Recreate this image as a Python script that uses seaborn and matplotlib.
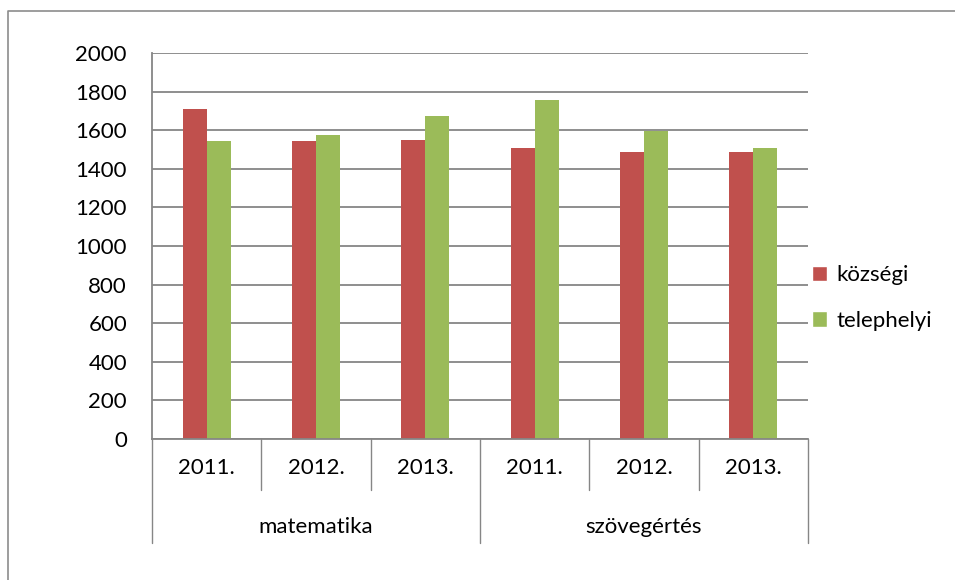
import numpy as np
import pandas as pd
import seaborn as sns
import matplotlib.pyplot as plt
from matplotlib.lines import Line2D
from matplotlib.patches import Patch
from matplotlib.transforms import blended_transform_factory

# data
subjects = ['matematika', 'szövegértés']
years = ['2011.', '2012.', '2013.']
kozsegi = [1711, 1546, 1550, 1508, 1489, 1489]
telephelyi = [1546, 1574, 1671, 1755, 1597, 1506]
series_names = ['községi', 'telephelyi']
colors = ['#C0504D', '#9BBB59']

cats = [s + ' ' + y for s in subjects for y in years]
df = pd.DataFrame({
    'cat': cats * 2,
    'value': kozsegi + telephelyi,
    'series': [series_names[0]] * 6 + [series_names[1]] * 6,
})

sns.set_style('white')
plt.rcParams['font.family'] = ['Lato', 'DejaVu Sans']
plt.rcParams['text.color'] = 'black'
fs = 16

fig = plt.figure(figsize=(9.55, 5.8), dpi=100)
ax = fig.add_axes([152 / 955, 1 - 439 / 580, 656 / 955, 386 / 580])

sns.barplot(data=df, x='cat', y='value', hue='series', order=cats,
            hue_order=series_names, palette=colors, width=0.44,
            saturation=1, linewidth=0, ax=ax, legend=False)

gray = '#868686'
ax.set_ylim(0, 2000)
ax.set_xlim(-0.5, 5.5)
ax.set_yticks(np.arange(0, 2001, 200))
ax.yaxis.grid(True, color=gray, linewidth=1.3)
ax.set_axisbelow(True)
for side in ['top', 'right']:
    ax.spines[side].set_visible(False)
for side in ['left', 'bottom']:
    ax.spines[side].set_color(gray)
    ax.spines[side].set_linewidth(1.3)
ax.tick_params(axis='y', length=6, color=gray, width=1.3, labelsize=fs, pad=12,
               labelcolor='black')
ax.tick_params(axis='x', length=0, labelsize=fs, pad=14, labelcolor='black')
ax.set_xticks(range(6))
ax.set_xticklabels(years * 2)
ax.set_xlabel('')
ax.set_ylabel('')

# category separators under the axis, no horizontal line between rows
tr = blended_transform_factory(ax.transData, ax.transAxes)
for i in range(7):
    x = i - 0.5
    low = -0.269 if i % 3 == 0 else -0.132
    ax.plot([x, x], [0, low], transform=tr, color=gray, lw=1, clip_on=False)
for j, s in enumerate(subjects):
    ax.text(j * 3 + 1, -0.228, s, transform=tr, ha='center', va='center', fontsize=fs)

handles = [Patch(facecolor=c, label=n) for c, n in zip(colors, series_names)]
fig.legend(handles=handles, loc='center left', bbox_to_anchor=(792 / 955, 1 - 298 / 580),
           frameon=False, fontsize=fs, handlelength=0.68, handleheight=0.68,
           handletextpad=0.4, labelspacing=1.15)

# chart border: only top and left edges are in the frame
fig.lines.append(Line2D([8 / 955, 8 / 955, 1], [0, 1 - 11 / 580, 1 - 11 / 580],
                        transform=fig.transFigure, color='#8c8c8c', lw=1.2))

fig.savefig('out.png', dpi=100)
